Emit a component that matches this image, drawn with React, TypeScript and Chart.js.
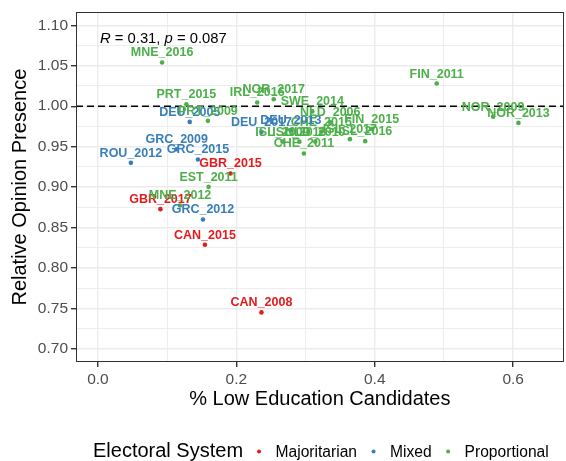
import React, { useEffect, useRef } from "react";
import { Chart, registerables } from "chart.js";

Chart.register(...registerables);

// ---------- data ----------
const majoritarianLabels = ["CAN_2008", "CAN_2015", "GBR_2015", "GBR_2017"];
const majoritarianX = [0.2363, 0.1546, 0.1916, 0.0903];
const majoritarianY = [0.7453, 0.8288, 0.9169, 0.8728];

const mixedLabels = ["DEU_2005", "DEU_2013", "DEU_2017", "GRC_2009", "GRC_2012", "GRC_2015", "ROU_2012"];
const mixedX = [0.1326, 0.2788, 0.2363, 0.1138, 0.1517, 0.1445, 0.0476];
const mixedY = [0.9806, 0.9704, 0.9683, 0.9469, 0.8601, 0.9342, 0.93];

const proportionalLabels = [
  "CHE_2011", "CHE_2015", "EST_2011", "FIN_2011", "FIN_2015", "IRL_2016", "ISL_2009",
  "ISL_2013", "ISL_2016", "ISL_2017", "MNE_2012", "MNE_2016", "NLD_2006", "NLD_2010",
  "NOR_2009", "NOR_2013", "NOR_2017", "PRT_2009", "PRT_2015", "SWE_2014",
];
const proportionalX = [
  0.2976, 0.3228, 0.1599, 0.4895, 0.3955, 0.2301, 0.2666,
  0.2911, 0.3862, 0.3641, 0.1186, 0.0927, 0.3357, 0.3141,
  0.571, 0.6076, 0.254, 0.1589, 0.1278, 0.3098,
];
const proportionalY = [
  0.9416, 0.9685, 0.9004, 1.028, 0.9719, 1.0046, 0.9562,
  0.9562, 0.9568, 0.9593, 0.8774, 1.054, 0.9802, 0.9562,
  0.987, 0.9794, 1.0086, 0.9819, 1.0025, 0.9936,
];

const systemNames = ["Majoritarian", "Mixed", "Proportional"];
const systemColors = ["#E41A1C", "#377EB8", "#4DAF4A"];

const xTickValues = [0, 0.1, 0.2, 0.3, 0.4, 0.5, 0.6];
const xTickLabels = ["0.0", "", "0.2", "", "0.4", "", "0.6"];
const yTickValues = [0.7, 0.725, 0.75, 0.775, 0.8, 0.825, 0.85, 0.875, 0.9, 0.925, 0.95, 0.975, 1.0, 1.025, 1.05, 1.075, 1.1];
const yTickLabels = ["0.70", "", "0.75", "", "0.80", "", "0.85", "", "0.90", "", "0.95", "", "1.00", "", "1.05", "", "1.10"];

const referenceLevel = 1.0;
const corrR = "0.31";
const corrP = "0.087";
const xTitle = "% Low Education Candidates";
const yTitle = "Relative Opinion Presence";
const legendTitle = "Electoral System";

const FONT = "Arial, 'Liberation Sans', Helvetica, sans-serif";

const toPoints = (xs: number[], ys: number[]) => xs.map((x, i) => ({ x, y: ys[i] }));

const ggPlugin = {
  id: "ggDecor",
  beforeDatasetsDraw(chart: any) {
    const { ctx, chartArea: a, scales } = chart;
    const py = scales.y.getPixelForValue(referenceLevel);
    ctx.save();
    ctx.beginPath();
    ctx.setLineDash([7, 4]);
    ctx.strokeStyle = "#000";
    ctx.lineWidth = 1.4;
    ctx.moveTo(a.left, py);
    ctx.lineTo(a.right, py);
    ctx.stroke();
    ctx.restore();
  },
  afterDatasetsDraw(chart: any) {
    const { ctx, chartArea: a } = chart;
    // point labels, drawn in alphabetical order (later on top)
    const items: any[] = [];
    chart.data.datasets.forEach((ds: any, di: number) => {
      const meta = chart.getDatasetMeta(di);
      meta.data.forEach((el: any, i: number) => {
        items.push({ text: ds.pointNames[i], x: el.x, y: el.y, color: ds.backgroundColor });
      });
    });
    items.sort((p, q) => (p.text < q.text ? -1 : p.text > q.text ? 1 : 0));
    ctx.save();
    ctx.font = `bold 12.5px ${FONT}`;
    ctx.textAlign = "center";
    ctx.textBaseline = "alphabetic";
    items.forEach((it) => {
      ctx.fillStyle = it.color;
      ctx.fillText(it.text, it.x, it.y - 6);
    });
    ctx.restore();

    // panel border
    ctx.save();
    ctx.strokeStyle = "#333333";
    ctx.lineWidth = 1;
    ctx.strokeRect(Math.round(a.left) + 0.5, Math.round(a.top) + 0.5, Math.round(a.right - a.left) - 1, Math.round(a.bottom - a.top) - 1);
    ctx.restore();

    // correlation annotation
    ctx.save();
    ctx.fillStyle = "#000";
    ctx.textBaseline = "alphabetic";
    ctx.textAlign = "left";
    let x = a.left + 24;
    const by = a.top + 31;
    const parts: [string, boolean][] = [["R", true], [" = " + corrR + ", ", false], ["p", true], [" = " + corrP, false]];
    parts.forEach(([t, it]) => {
      ctx.font = `${it ? "italic " : ""}14.8px ${FONT}`;
      ctx.fillText(t, x, by);
      x += ctx.measureText(t).width;
    });
    ctx.restore();

    // legend
    ctx.save();
    ctx.textBaseline = "alphabetic";
    ctx.textAlign = "left";
    ctx.fillStyle = "#000";
    ctx.font = `20px ${FONT}`;
    const ly = 457;
    ctx.fillText(legendTitle, 93, ly);
    let lx = 93 + ctx.measureText(legendTitle).width + 16;
    ctx.font = `15.6px ${FONT}`;
    systemNames.forEach((name, i) => {
      ctx.fillStyle = systemColors[i];
      ctx.beginPath();
      ctx.arc(lx, ly - 5.5, 2, 0, Math.PI * 2);
      ctx.fill();
      ctx.fillStyle = "#000";
      ctx.fillText(name, lx + 16.5, ly);
      lx += 16.5 + ctx.measureText(name).width + 16.5;
    });
    ctx.restore();
  },
};

export default function App() {
  const ref = useRef<HTMLCanvasElement | null>(null);
  useEffect(() => {
    if (!ref.current) return;
    const chart = new Chart(ref.current, {
      type: "scatter",
      data: {
        datasets: [
          { label: systemNames[0], data: toPoints(majoritarianX, majoritarianY), backgroundColor: systemColors[0], pointNames: majoritarianLabels } as any,
          { label: systemNames[1], data: toPoints(mixedX, mixedY), backgroundColor: systemColors[1], pointNames: mixedLabels } as any,
          { label: systemNames[2], data: toPoints(proportionalX, proportionalY), backgroundColor: systemColors[2], pointNames: proportionalLabels } as any,
        ],
      },
      options: {
        responsive: false,
        animation: false,
        layout: { padding: { top: 12, right: 1, left: 0, bottom: 0 } },
        elements: { point: { radius: 2.3, borderWidth: 0, hoverRadius: 2.3 } },
        plugins: { legend: { display: false }, tooltip: { enabled: false } },
        scales: {
          x: {
            type: "linear",
            min: -0.0317,
            max: 0.673,
            afterFit: (s: any) => { s.height = 99; },
            afterBuildTicks: (s: any) => { s.ticks = xTickValues.map((v) => ({ value: v })); },
            ticks: {
              autoSkip: false,
              maxRotation: 0,
              padding: 3,
              color: "#4D4D4D",
              font: { size: 15.5, family: FONT },
              callback: (_v: any, i: number) => xTickLabels[i],
            },
            grid: {
              color: "#EBEBEB",
              lineWidth: (c: any) => (c.index % 2 === 0 ? 1.4 : 0.9),
              tickColor: (c: any) => (c.index % 2 === 0 ? "#333333" : "rgba(0,0,0,0)"),
              tickLength: 5,
            },
            border: { display: false },
            title: { display: true, text: xTitle, color: "#000", font: { size: 20, family: FONT }, padding: { top: 0, bottom: 50 } },
          },
          y: {
            type: "linear",
            min: 0.684,
            max: 1.116,
            afterFit: (s: any) => { s.width = 76; },
            afterBuildTicks: (s: any) => { s.ticks = yTickValues.map((v) => ({ value: v })); },
            ticks: {
              autoSkip: false,
              padding: 3,
              color: "#4D4D4D",
              font: { size: 15.5, family: FONT },
              callback: (_v: any, i: number) => yTickLabels[i],
            },
            grid: {
              color: "#EBEBEB",
              lineWidth: (c: any) => (c.index % 2 === 0 ? 1.4 : 0.9),
              tickColor: (c: any) => (c.index % 2 === 0 ? "#333333" : "rgba(0,0,0,0)"),
              tickLength: 5,
            },
            border: { display: false },
            title: { display: true, text: yTitle, color: "#000", font: { size: 20, family: FONT }, padding: { top: 8, bottom: 0 } },
          },
        },
      } as any,
      plugins: [ggPlugin],
    });
    return () => chart.destroy();
  }, []);
  return (
    <div style={{ position: "fixed", left: 0, top: 0, width: 566, height: 461, background: "#fff" }}>
      <canvas ref={ref} width={566} height={461} style={{ display: "block" }} />
    </div>
  );
}
